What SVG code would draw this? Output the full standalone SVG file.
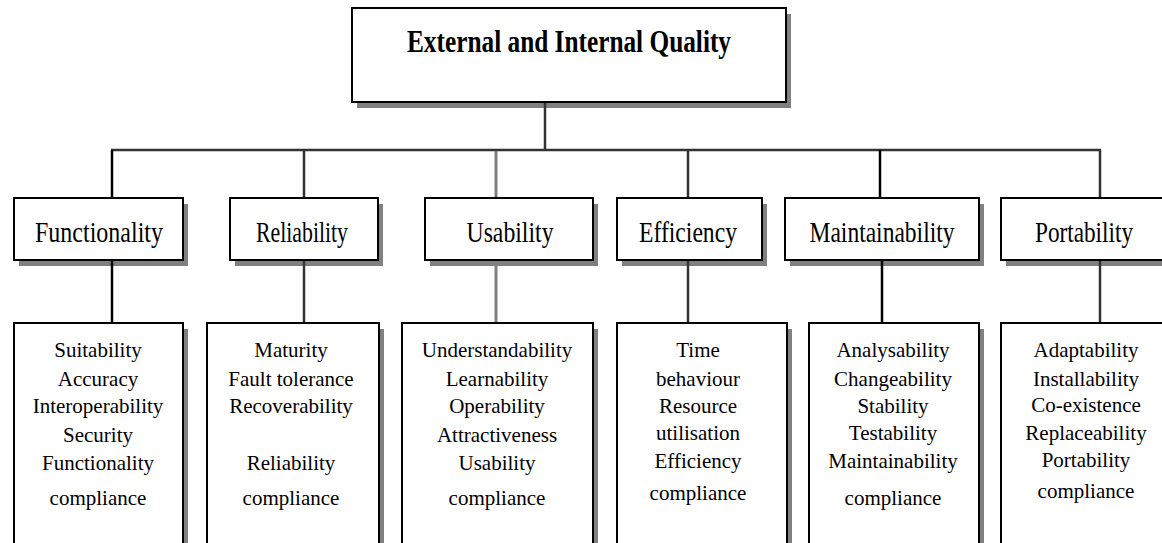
<svg xmlns="http://www.w3.org/2000/svg" width="1162" height="543" viewBox="0 0 1162 543">
<style>
.bg{fill:#ffffff}
.box{fill:#ffffff;stroke:#000000;stroke-width:2}
.sh{fill:#808080}
.title{font-family:"Liberation Serif","Times New Roman",serif;font-weight:bold;font-size:31px;fill:#000;text-anchor:middle}
.cat{font-family:"Liberation Serif","Times New Roman",serif;font-size:30px;fill:#000;text-anchor:middle}
.sub{font-family:"Liberation Serif","Times New Roman",serif;font-size:21px;fill:#000;text-anchor:middle}
.ln{stroke:#333333;stroke-width:2.5;fill:none}
.lg{stroke:#808080;stroke-width:3;fill:none}
.lb{stroke:#000000;stroke-width:2.5;fill:none}
</style>
<rect class="bg" x="0" y="0" width="1162" height="543"/>

<g id="root">
<rect class="sh" x="357" y="14" width="434" height="94"/>
<rect class="box" x="352" y="8" width="434" height="94"/>
<text class="title" x="569" y="52" textLength="324" lengthAdjust="spacingAndGlyphs">External and Internal Quality</text>
</g>

<g id="functionality">
<rect class="sh" x="19" y="204" width="169" height="62"/>
<rect class="box" x="14" y="198" width="169" height="62"/>
<text class="cat" x="99" y="242" textLength="128" lengthAdjust="spacingAndGlyphs">Functionality</text>
</g>
<g id="reliability">
<rect class="sh" x="235" y="204" width="148" height="62"/>
<rect class="box" x="230" y="198" width="148" height="62"/>
<text class="cat" x="302" y="242" textLength="92" lengthAdjust="spacingAndGlyphs">Reliability</text>
</g>
<g id="usability">
<rect class="sh" x="430" y="204" width="168" height="62"/>
<rect class="box" x="425" y="198" width="168" height="62"/>
<text class="cat" x="510" y="242" textLength="87" lengthAdjust="spacingAndGlyphs">Usability</text>
</g>
<g id="efficiency">
<rect class="sh" x="622" y="204" width="145" height="62"/>
<rect class="box" x="617" y="198" width="145" height="62"/>
<text class="cat" x="688" y="242" textLength="98" lengthAdjust="spacingAndGlyphs">Efficiency</text>
</g>
<g id="maintainability">
<rect class="sh" x="790" y="204" width="194" height="62"/>
<rect class="box" x="785" y="198" width="194" height="62"/>
<text class="cat" x="882" y="242" textLength="145" lengthAdjust="spacingAndGlyphs">Maintainability</text>
</g>
<g id="portability">
<rect class="sh" x="1006" y="204" width="200" height="62"/>
<rect class="box" x="1001" y="198" width="200" height="62"/>
<text class="cat" x="1084" y="242" textLength="98" lengthAdjust="spacingAndGlyphs">Portability</text>
</g>

<g id="functionality-sub">
<rect class="sh" x="19" y="329" width="169" height="240"/>
<rect class="box" x="14" y="323" width="169" height="240"/>
<text class="sub" x="98" y="357">Suitability</text>
<text class="sub" x="98" y="386">Accuracy</text>
<text class="sub" x="98" y="413">Interoperability</text>
<text class="sub" x="98" y="442">Security</text>
<text class="sub" x="98" y="470">Functionality</text>
<text class="sub" x="98" y="505">compliance</text>
</g>
<g id="reliability-sub">
<rect class="sh" x="212" y="329" width="172" height="240"/>
<rect class="box" x="207" y="323" width="172" height="240"/>
<text class="sub" x="291" y="357">Maturity</text>
<text class="sub" x="291" y="386">Fault tolerance</text>
<text class="sub" x="291" y="413">Recoverability</text>
<text class="sub" x="291" y="470">Reliability</text>
<text class="sub" x="291" y="505">compliance</text>
</g>
<g id="usability-sub">
<rect class="sh" x="407" y="329" width="191" height="240"/>
<rect class="box" x="402" y="323" width="191" height="240"/>
<text class="sub" x="497" y="357">Understandability</text>
<text class="sub" x="497" y="386">Learnability</text>
<text class="sub" x="497" y="413">Operability</text>
<text class="sub" x="497" y="442">Attractiveness</text>
<text class="sub" x="497" y="470">Usability</text>
<text class="sub" x="497" y="505">compliance</text>
</g>
<g id="efficiency-sub">
<rect class="sh" x="622" y="329" width="170" height="240"/>
<rect class="box" x="617" y="323" width="170" height="240"/>
<text class="sub" x="698" y="357">Time</text>
<text class="sub" x="698" y="386">behaviour</text>
<text class="sub" x="698" y="413">Resource</text>
<text class="sub" x="698" y="440">utilisation</text>
<text class="sub" x="698" y="468">Efficiency</text>
<text class="sub" x="698" y="500">compliance</text>
</g>
<g id="maintainability-sub">
<rect class="sh" x="814" y="329" width="170" height="240"/>
<rect class="box" x="809" y="323" width="170" height="240"/>
<text class="sub" x="893" y="357">Analysability</text>
<text class="sub" x="893" y="386">Changeability</text>
<text class="sub" x="893" y="413">Stability</text>
<text class="sub" x="893" y="440">Testability</text>
<text class="sub" x="893" y="468">Maintainability</text>
<text class="sub" x="893" y="505">compliance</text>
</g>
<g id="portability-sub">
<rect class="sh" x="1006" y="329" width="200" height="240"/>
<rect class="box" x="1001" y="323" width="200" height="240"/>
<text class="sub" x="1086" y="357">Adaptability</text>
<text class="sub" x="1086" y="386">Installability</text>
<text class="sub" x="1086" y="412">Co-existence</text>
<text class="sub" x="1086" y="440">Replaceability</text>
<text class="sub" x="1086" y="467">Portability</text>
<text class="sub" x="1086" y="498">compliance</text>
</g>

<g id="connectors">
<line class="ln" x1="545" y1="103" x2="545" y2="150"/>
<line class="ln" x1="111" y1="150" x2="1101" y2="150"/>
<line class="lb" x1="112" y1="150" x2="112" y2="197"/>
<line class="ln" x1="304" y1="150" x2="304" y2="197"/>
<line class="lg" x1="496" y1="151" x2="496" y2="197"/>
<line class="ln" x1="688" y1="150" x2="688" y2="197"/>
<line class="lb" x1="880" y1="150" x2="880" y2="197"/>
<line class="ln" x1="1100" y1="150" x2="1100" y2="197"/>
<line class="lb" x1="112" y1="261" x2="112" y2="322"/>
<line class="ln" x1="304" y1="261" x2="304" y2="322"/>
<line class="lg" x1="496" y1="261" x2="496" y2="322"/>
<line class="ln" x1="688" y1="261" x2="688" y2="322"/>
<line class="lb" x1="882" y1="261" x2="882" y2="322"/>
<line class="ln" x1="1100" y1="261" x2="1100" y2="322"/>
</g>
</svg>
